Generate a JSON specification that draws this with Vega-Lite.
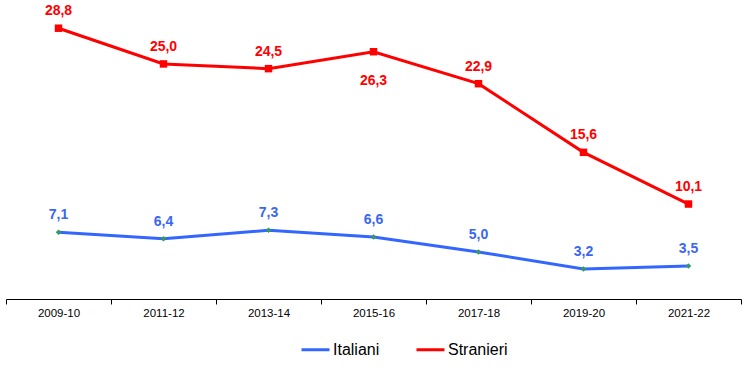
{
  "$schema": "https://vega.github.io/schema/vega-lite/v6.json",
  "width": 735,
  "height": 299,
  "autosize": {"type": "none"},
  "padding": {"left": 6, "top": 0, "right": 15, "bottom": 69},
  "background": "white",
  "config": {
    "view": {"stroke": null},
    "font": "Liberation Sans",
    "locale": {"number": {"decimal": ",", "thousands": ".", "grouping": [3], "currency": ["", " €"]}}
  },
  "data": {
    "values": [
      {"anno": "2009-10", "serie": "Italiani", "valore": 7.1},
      {"anno": "2011-12", "serie": "Italiani", "valore": 6.4},
      {"anno": "2013-14", "serie": "Italiani", "valore": 7.3},
      {"anno": "2015-16", "serie": "Italiani", "valore": 6.6},
      {"anno": "2017-18", "serie": "Italiani", "valore": 5.0},
      {"anno": "2019-20", "serie": "Italiani", "valore": 3.2},
      {"anno": "2021-22", "serie": "Italiani", "valore": 3.5},
      {"anno": "2009-10", "serie": "Stranieri", "valore": 28.8},
      {"anno": "2011-12", "serie": "Stranieri", "valore": 25.0},
      {"anno": "2013-14", "serie": "Stranieri", "valore": 24.5},
      {"anno": "2015-16", "serie": "Stranieri", "valore": 26.3},
      {"anno": "2017-18", "serie": "Stranieri", "valore": 22.9},
      {"anno": "2019-20", "serie": "Stranieri", "valore": 15.6},
      {"anno": "2021-22", "serie": "Stranieri", "valore": 10.1}
    ]
  },
  "encoding": {
    "x": {
      "field": "anno",
      "type": "nominal",
      "scale": {"type": "band", "paddingInner": 0, "paddingOuter": 0},
      "axis": {
        "title": null,
        "labelAngle": 0,
        "tickBand": "extent",
        "domainColor": "black",
        "tickColor": "black",
        "tickSize": 5,
        "labelPadding": 3,
        "labelFontSize": 11.5,
        "labelColor": "black",
        "labelFont": "Liberation Sans",
        "grid": false
      }
    },
    "y": {
      "field": "valore",
      "type": "quantitative",
      "scale": {"domain": [0, 31.8], "nice": false, "zero": true},
      "axis": null
    }
  },
  "layer": [
    {
      "mark": {"type": "line", "strokeWidth": 3},
      "encoding": {
        "color": {
          "field": "serie",
          "type": "nominal",
          "scale": {"domain": ["Italiani", "Stranieri"], "range": ["#3366FF", "#FF0000"]},
          "legend": {
            "title": null,
            "orient": "none",
            "legendX": 294,
            "legendY": 334,
            "direction": "horizontal",
            "symbolType": "stroke",
            "symbolSize": 784,
            "symbolStrokeWidth": 3,
            "labelFontSize": 16,
            "labelFont": "Liberation Sans",
            "labelColor": "black",
            "labelOffset": 2,
            "columnPadding": 30
          }
        }
      }
    },
    {
      "transform": [{"filter": "datum.serie === 'Stranieri'"}],
      "mark": {"type": "point", "shape": "square", "filled": true, "color": "#FF0000", "size": 56, "opacity": 1}
    },
    {
      "transform": [{"filter": "datum.serie === 'Italiani'"}],
      "mark": {"type": "point", "shape": "diamond", "filled": true, "color": "#339966", "size": 30, "opacity": 1}
    },
    {
      "transform": [{"filter": "!(datum.serie === 'Stranieri' && datum.anno === '2015-16')"}],
      "mark": {"type": "text", "fontSize": 14, "fontWeight": "bold", "font": "Liberation Sans", "baseline": "middle", "align": "center", "dy": -17},
      "encoding": {
        "text": {"field": "valore", "type": "quantitative", "format": ".1f"},
        "fill": {
          "field": "serie",
          "type": "nominal",
          "scale": {"domain": ["Italiani", "Stranieri"], "range": ["#3A66F0", "#FF0000"]},
          "legend": null
        }
      }
    },
    {
      "transform": [{"filter": "datum.serie === 'Stranieri' && datum.anno === '2015-16'"}],
      "mark": {"type": "text", "fontSize": 14, "fontWeight": "bold", "font": "Liberation Sans", "baseline": "middle", "align": "center", "dy": 29, "color": "#FF0000"},
      "encoding": {
        "text": {"field": "valore", "type": "quantitative", "format": ".1f"}
      }
    }
  ]
}
